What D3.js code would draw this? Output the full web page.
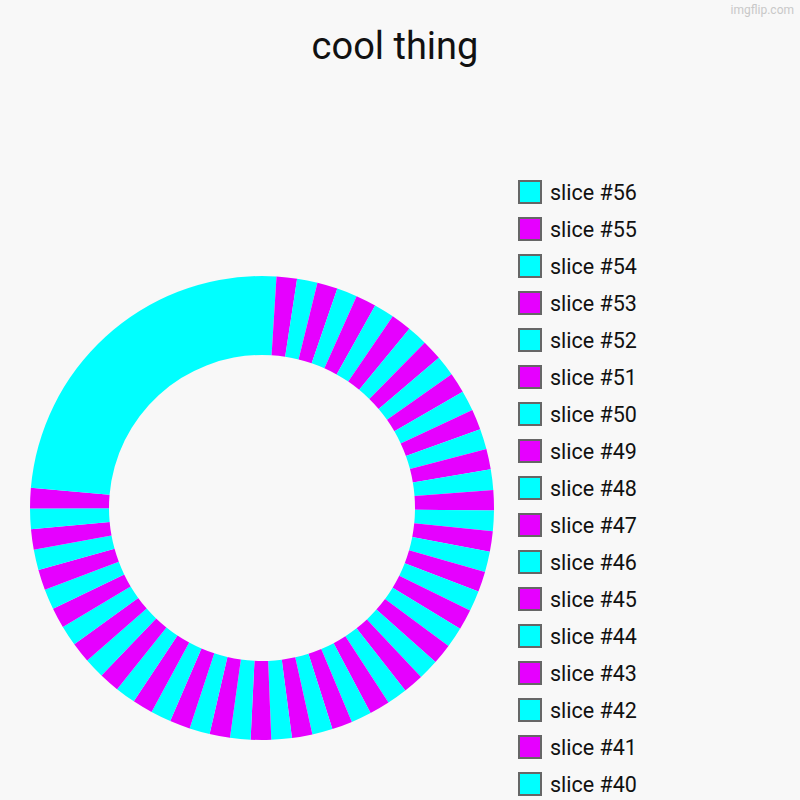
<!DOCTYPE html>
<html>
<head>
<meta charset="utf-8">
<script src="https://cdn.jsdelivr.net/npm/d3@7/dist/d3.min.js"></script>
<style>
  html, body { margin: 0; padding: 0; background: #f8f8f8; }
  svg { display: block; font-family: Roboto, "Noto Sans", sans-serif; }
</style>
</head>
<body>
<svg id="chart" width="800" height="800"></svg>
<script>
// ---- data ----
const title = "cool thing";
const categories = d3.range(1, 57).map(i => "slice #" + i);
// values: #1 invisible, #2 a thin sliver, #3..#55 equal, #56 the large slice
const values = [0, 7].concat(d3.range(3, 56).map(() => 10)).concat([166]);
const palette = ["#e600ff", "#00ffff"]; // odd slices magenta, even slices cyan
const legendShown = 17; // legend entries visible before the page edge (#56 .. #40)

const svg = d3.select("#chart");
svg.append("rect").attr("width", 800).attr("height", 800).attr("fill", "#f8f8f8");

// watermark
svg.append("text").attr("x", 794).attr("y", 14).attr("text-anchor", "end")
  .attr("font-size", 12).attr("fill", "#c8c8c8").text("imgflip.com");

// title
svg.append("text").attr("x", 395).attr("y", 59).attr("text-anchor", "middle")
  .attr("font-size", 38).attr("fill", "#111").text(title);

const data = categories.map((c, i) => ({ name: c, value: values[i], idx: i + 1 }));
const color = d => palette[d.idx % 2 === 0 ? 1 : 0];

const pie = d3.pie().value(d => d.value).sort(null).startAngle(0).endAngle(2 * Math.PI);
const arc = d3.arc().innerRadius(153).outerRadius(232);

const g = svg.append("g").attr("transform", "translate(262,508)");
g.selectAll("path").data(pie(data)).join("path")
  .attr("d", arc)
  .attr("fill", d => color(d.data));

// legend (reverse order; only the entries that fit on the page)
const legendData = data.slice().reverse().slice(0, legendShown);
const ly = d3.scaleLinear().domain([0, 1]).range([192, 229]);
const lg = svg.append("g");
const item = lg.selectAll("g").data(legendData).join("g")
  .attr("transform", (d, i) => `translate(0,${ly(i)})`);
item.append("rect").attr("x", 519).attr("y", -11).attr("width", 22).attr("height", 22)
  .attr("fill", d => color(d)).attr("stroke", "#666").attr("stroke-width", 2);
item.append("text").attr("x", 550).attr("y", 8).attr("font-size", 21.5)
  .attr("fill", "#111").text(d => d.name);
</script>
</body>
</html>
